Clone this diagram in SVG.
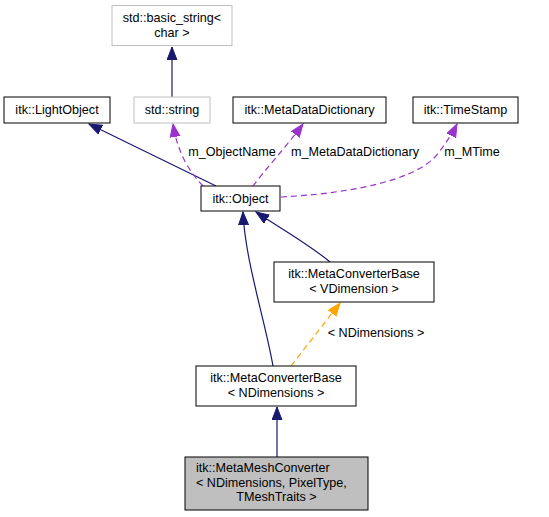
<svg xmlns="http://www.w3.org/2000/svg" width="549" height="517" viewBox="0 0 549 517">
<style>
text{font-family:"Liberation Sans",Arial,sans-serif;font-size:12.6px;fill:#000}
.n{fill:#fff;stroke:#000;stroke-width:1}
.g{fill:#fff;stroke:#bfbfbf;stroke-width:1}
.c{text-anchor:middle}
.e{fill:none;stroke:#191970;stroke-width:1.2}
.p{fill:none;stroke:#9a32cd;stroke-width:1.2;stroke-dasharray:6,4}
.o{fill:none;stroke:#ffa500;stroke-width:1.2;stroke-dasharray:6,4}
</style>
<defs>
<marker id="ab" markerUnits="userSpaceOnUse" markerWidth="14" markerHeight="11" refX="13" refY="5" orient="auto"><path d="M0,0 L13,5 L0,10 z" fill="#191970" stroke="#191970"/></marker>
<marker id="ap" markerUnits="userSpaceOnUse" markerWidth="14" markerHeight="11" refX="13" refY="5" orient="auto"><path d="M0,0 L13,5 L0,10 z" fill="#9a32cd" stroke="#9a32cd"/></marker>
<marker id="ao" markerUnits="userSpaceOnUse" markerWidth="14" markerHeight="11" refX="13" refY="5" orient="auto"><path d="M0,0 L13,5 L0,10 z" fill="#ffa500" stroke="#ffa500"/></marker>
</defs>
<rect width="549" height="517" fill="#fff"/>
<g id="edges">
<path class="e" d="M172,97 L172,47" marker-end="url(#ab)"/>
<path class="e" d="M216,186 L89,124" marker-end="url(#ab)"/>
<path class="p" d="M203,186 C190,172 178,155 173,124" marker-end="url(#ap)"/>
<path class="p" d="M253,186 C265,170 285,148 303,124" marker-end="url(#ap)"/>
<path class="p" d="M281,197 C340,194 410,183 435,157 C445,145 452,134 457,124" marker-end="url(#ap)"/>
<path class="e" d="M273,366 C265,320 245,260 243,212" marker-end="url(#ab)"/>
<path class="e" d="M330,262 C310,245 280,228 256,212" marker-end="url(#ab)"/>
<path class="o" d="M291,366 L340,303" marker-end="url(#ao)"/>
<path class="e" d="M277,457 L277,407" marker-end="url(#ab)"/>
<text x="232" y="156" class="c">m_ObjectName</text>
<text x="355" y="156" class="c">m_MetaDataDictionary</text>
<text x="472" y="156" class="c">m_MTime</text>
<text x="376" y="337" class="c">&lt; NDimensions &gt;</text>
</g>
<g id="basic_string"><rect class="g" x="112" y="5.5" width="120" height="40"/><text x="172" y="22" class="c">std::basic_string&lt;</text><text x="172" y="37" class="c">char &gt;</text></g>
<g id="LightObject"><rect class="n" x="4" y="97" width="106" height="26"/><text x="57" y="114" class="c">itk::LightObject</text></g>
<g id="string"><rect class="g" x="134" y="97" width="76" height="26"/><text x="172" y="114" class="c">std::string</text></g>
<g id="MetaDataDictionary"><rect class="n" x="233" y="97" width="153" height="26"/><text x="309.5" y="114" class="c">itk::MetaDataDictionary</text></g>
<g id="TimeStamp"><rect class="n" x="413" y="97" width="105" height="26"/><text x="465.5" y="114" class="c">itk::TimeStamp</text></g>
<g id="Object"><rect class="n" x="201" y="186" width="79" height="25"/><text x="240.5" y="203" class="c">itk::Object</text></g>
<g id="MCBV"><rect class="n" x="274" y="262" width="160" height="40"/><text x="354" y="278" class="c">itk::MetaConverterBase</text><text x="354" y="293" class="c">&lt; VDimension &gt;</text></g>
<g id="MCBN"><rect class="n" x="196" y="366" width="160" height="40"/><text x="276" y="382" class="c">itk::MetaConverterBase</text><text x="276" y="397" class="c">&lt; NDimensions &gt;</text></g>
<g id="MMC"><rect x="185" y="457" width="183" height="53" fill="#bfbfbf" stroke="#000"/><text x="196" y="472">itk::MetaMeshConverter</text><text x="196" y="487">&lt; NDimensions, PixelType,</text><text x="276.5" y="501" class="c">TMeshTraits &gt;</text></g>
</svg>
